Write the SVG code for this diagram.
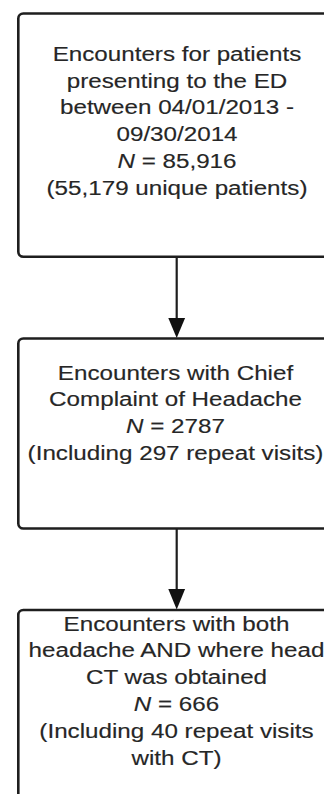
<svg xmlns="http://www.w3.org/2000/svg" width="324" height="794" viewBox="0 0 324 794">
<defs>
<style>
.box{fill:#ffffff;stroke:#1e1e1e;stroke-width:2.6}
.lbl{font-family:"Liberation Sans",Arial,sans-serif;font-size:20px;fill:#262626;stroke:#262626;stroke-width:0.15;text-anchor:middle}
.it{font-style:italic}
.edge{stroke:#1e1e1e;stroke-width:2.2;fill:none}
.head{fill:#111111}
</style>
</defs>
<rect width="324" height="794" fill="#ffffff"/>
<g id="connectors">
<line class="edge" x1="176.7" y1="257" x2="176.7" y2="320"/>
<polygon class="head" points="168.3,318 185.1,318 176.7,338"/>
<line class="edge" x1="176.7" y1="529" x2="176.7" y2="591"/>
<polygon class="head" points="168.3,589 185.1,589 176.7,609.5"/>
</g>
<g id="node1">
<rect class="box" x="18.3" y="13.5" width="320" height="243.3" rx="5"/>
<g transform="translate(177,0) scale(1.21,1)">
<text class="lbl" x="0" y="61">Encounters for patients</text>
<text class="lbl" x="0" y="88">presenting to the ED</text>
<text class="lbl" x="0" y="114.5">between 04/01/2013 -</text>
<text class="lbl" x="0" y="141.5">09/30/2014</text>
<text class="lbl" x="0" y="168"><tspan class="it">N</tspan> = 85,916</text>
<text class="lbl" x="0" y="195">(55,179 unique patients)</text>
</g>
</g>
<g id="node2">
<rect class="box" x="18.3" y="338.5" width="320" height="190" rx="5"/>
<g transform="translate(175.5,0) scale(1.21,1)">
<text class="lbl" x="0" y="380">Encounters with Chief</text>
<text class="lbl" x="0" y="406.5">Complaint of Headache</text>
<text class="lbl" x="0" y="433"><tspan class="it">N</tspan> = 2787</text>
<text class="lbl" x="0" y="460">(Including 297 repeat visits)</text>
</g>
</g>
<g id="node3">
<rect class="box" x="18.3" y="610" width="320" height="200" rx="5"/>
<g transform="translate(176.5,0) scale(1.21,1)">
<text class="lbl" x="0" y="631">Encounters with both</text>
<text class="lbl" x="0" y="657.5">headache AND where head</text>
<text class="lbl" x="0" y="684.5">CT was obtained</text>
<text class="lbl" x="0" y="711"><tspan class="it">N</tspan> = 666</text>
<text class="lbl" x="0" y="738">(Including 40 repeat visits</text>
<text class="lbl" x="0" y="765">with CT)</text>
</g>
</g>
</svg>
